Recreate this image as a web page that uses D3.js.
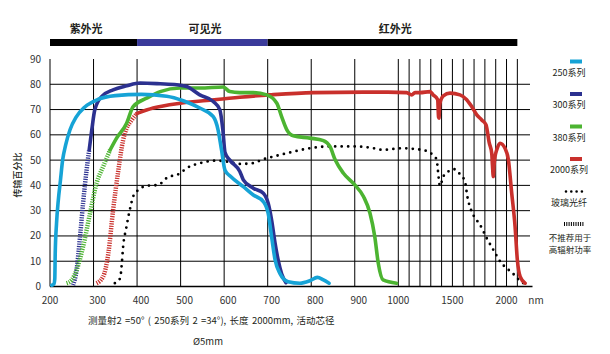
<!DOCTYPE html>
<html>
<head>
<meta charset="utf-8">
<script src="https://cdn.jsdelivr.net/npm/d3@7"></script>
<style>
  body { margin: 0; background: #fff; }
  svg text { font-family: "Noto Sans CJK SC", "Noto Sans", sans-serif; fill: #231f20; }
</style>
</head>
<body>
<div id="chart"></div>
<script>
// transmission curves, [wavelength nm, percent]
var s250 = [[204,0.5],[209,1],[211,3],[212,13],[215,25],[219,34],[224,42],[229,50],[236,56],[246,62],[260,67],[280,71],
    [310,74],[350,75.5],[410,76],[468,75.3],[506,73.5],[544,70.6],[575,67.2],[586,62],[594,54],[602,46],[615,43.5],
    [644,39.5],[667,36.2],[690,33.6],[701,29],[709,19.7],[717,10.5],[728,5.2],[747,1.9],[774,1.3],[797,2.3],[814,3.6],
    [828,2.6],[841,1.3]];

var hatch300 = [[253,0.6],[261,6.5],[269,19.7],[276,33],[284,46],[290,54]];
var s300 = [[290,54],[296,62],[303,70],[319,75.2],[345,77.8],[376,79.4],[407,80.5],[453,80.2],[491,79.8],[514,79.1],
    [544,75.8],[575,73.2],[590,70],[597,62],[602,53],[613,50],[636,45.5],[644,42.2],[667,38.9],[690,36.9],[701,33],
    [709,26.3],[717,17.1],[724,10.5],[732,5],[742,1.5]];

var hatch380 = [[238,1.3],[250,2.6],[261,6.5],[276,15.8],[292,29],[307,40.9],[322,47.4],[338,54]];
var s380 = [[338,54],[353,58.7],[376,64.6],[391,71.2],[422,74.5],[453,77.1],[499,78.5],[545,78.5],[598,78.9],
    [613,77.1],[636,76.7],[667,76.7],[698,75.8],[721,72.5],[732,67.2],[744,62],[759,59.6],[797,58.7],[828,57.7],
    [843,55.4],[855,50.1],[874,44.8],[900,40.2],[920,35.6],[935,29],[946,19.7],[954,9.2],[965,2.6],[996,1.3]];

var hatch2000 = [[307,1.3],[322,3.9],[334,13.1],[345,30.3],[357,46],[368,58],[376,62.6],[388,65.9],[400,68.5]];
var s2000 = [[400,68.5],[437,70.6],[499,72.5],[560,73.6],[636,74.9],[705,75.8],[805,76.7],[920,76.9],[976,76.9],
    [1077,76.7],[1124,75.8],[1154,76.7],[1200,76.7],[1293,77.1],[1323,75.8],[1364,73.9],[1372,67],[1376,66.6],
    [1380,70],[1385,72.5],[1416,75.4],[1478,76.5],[1570,75.8],[1632,73.9],[1678,71.2],[1725,67.9],[1771,65.9],
    [1810,64],[1841,56.7],[1863,52.8],[1870,48],[1878,43.5],[1885,48],[1894,51.4],[1909,54],[1940,56.7],[1986,54.7],
    [2017,50.1],[2048,36.9],[2079,23.7],[2100,10.5],[2126,3.9],[2172,1.3]];

var glass = [[349,1.3],[361,3.2],[365,9.2],[368,15.8],[375,23],[380,27.6],[385,31.6],[391,35.6],[403,38.2],[422,39.8],
    [449,40.2],[468,42.9],[499,44.8],[514,46.8],[545,48.8],[583,49.8],[606,49.4],[636,48.5],[667,48.8],[686,50.1],
    [713,51.4],[751,53],[797,54.7],[843,55.4],[904,55.4],[943,54.7],[966,54],[981,54.3],[1046,54.7],[1170,54.3],
    [1247,53.8],[1318,52.1],[1355,50.1],[1364,46.8],[1370,44.2],[1385,39.8],[1416,43.5],[1462,45.5],[1515,46.4],
    [1570,44.4],[1616,41.5],[1638,35.6],[1678,29.6],[1718,26.6],[1755,24.4],[1817,19.1],[1878,14.5],[1949,9.4],
    [2002,7.2],[2057,5.2],[2109,2.9],[2155,1.3]];

var gridNm = d3.range(200, 2101, 100);
var xLabels = [200, 300, 400, 500, 600, 700, 800, 900, 1000, 1500, 2000];
var yTicks = d3.range(0, 91, 10);

var bandNames = ['紫外光', '可见光', '红外光'];
var bandEdges = [200, 400, 700, 2100];
var bandLabelNm = [283, 556, 993];
var bandColors = ['#000', '#3a3a9a', '#000'];

var legendNames = ['250系列', '300系列', '380系列', '2000系列', '玻璃光纤'];
var seriesColors = ['#16a3d6', '#2c3190', '#4cb431', '#c9302c', '#000'];
var hatchNote = ['不推荐用于', '高辐射功率'];

var Chart = function() {
    this.createSpace();
    this.createScales();
    this.drawGrid();
    this.drawBands();
    this.drawCurves();
    this.drawLegend();
    this.drawNotes();
    return this;
};

Chart.prototype.createSpace = function() {
    this.width = 610;
    this.height = 354;
    this.svg = d3.select('#chart').append('svg')
        .attr('width', this.width)
        .attr('height', this.height);
};

Chart.prototype.createScales = function() {
    // linear to 1000 nm, compressed beyond
    this.x = d3.scaleLinear().domain([200, 1000, 2240]).range([50, 398.3, 532.5]);
    this.y = d3.scaleLinear().domain([0, 90]).range([286.5, 59]);
};

Chart.prototype.drawGrid = function() {
    var x = this.x, y = this.y, g = this.svg.append('g');

    g.selectAll('.h').data(yTicks.slice(1, 9)).enter().append('line')
        .attr('x1', x(200)).attr('x2', 530)
        .attr('y1', function(d) { return y(d); })
        .attr('y2', function(d) { return y(d); })
        .attr('stroke', '#000').attr('stroke-width', 1);

    g.selectAll('.v').data(gridNm).enter().append('line')
        .attr('x1', function(d) { return x(d); })
        .attr('x2', function(d) { return x(d); })
        .attr('y1', y(0)).attr('y2', y(90))
        .attr('stroke', '#000').attr('stroke-width', 1);

    g.append('line')
        .attr('x1', x(200)).attr('x2', x(2240))
        .attr('y1', y(0)).attr('y2', y(0))
        .attr('stroke', '#000').attr('stroke-width', 1.6);

    g.selectAll('.yl').data(yTicks).enter().append('text')
        .attr('x', 41).attr('y', function(d) { return y(d) + 3.5; })
        .attr('text-anchor', 'end').attr('font-size', 10)
        .style('fill', '#333')
        .text(function(d) { return d; });

    g.selectAll('.xl').data(xLabels).enter().append('text')
        .attr('x', function(d) { return x(d) + (d > 200 && d < 1000 ? 4 : 0); })
        .attr('y', 304)
        .attr('text-anchor', 'middle').attr('font-size', 10)
        .style('fill', '#333')
        .text(function(d) { return d; });

    g.append('text')
        .attr('x', 536).attr('y', 304)
        .attr('text-anchor', 'middle').attr('font-size', 10)
        .style('fill', '#333')
        .text('nm');

    g.append('text')
        .attr('transform', 'translate(21,175) rotate(-90)')
        .attr('text-anchor', 'middle').attr('font-size', 9).attr('font-weight', 500)
        .text('传输百分比');
};

Chart.prototype.drawBands = function() {
    var x = this.x, g = this.svg.append('g');

    g.selectAll('rect').data(bandNames).enter().append('rect')
        .attr('x', function(d, i) { return x(bandEdges[i]); })
        .attr('width', function(d, i) { return x(bandEdges[i + 1]) - x(bandEdges[i]); })
        .attr('y', 39).attr('height', 7)
        .attr('fill', function(d, i) { return bandColors[i]; });

    g.selectAll('text').data(bandNames).enter().append('text')
        .attr('x', function(d, i) { return x(bandLabelNm[i]); })
        .attr('y', 33)
        .attr('text-anchor', 'middle').attr('font-size', 11).attr('font-weight', 700)
        .text(function(d) { return d; });
};

Chart.prototype.drawCurves = function() {
    var x = this.x, y = this.y, g = this.svg.append('g');
    var line = d3.line()
        .x(function(d) { return x(d[0]); })
        .y(function(d) { return y(d[1]); })
        .curve(d3.curveMonotoneX);

    var hatched = [hatch300, hatch380, hatch2000];
    var hatchColors = [seriesColors[1], seriesColors[2], seriesColors[3]];
    hatched.forEach(function(h, i) {
        g.append('path').attr('d', line(h))
            .attr('fill', 'none').attr('stroke', hatchColors[i])
            .attr('stroke-width', 4.5).attr('stroke-dasharray', '1.2 1.2');
    });

    g.append('path').attr('d', line(glass))
        .attr('fill', 'none').attr('stroke', '#000')
        .attr('stroke-width', 2.8).attr('stroke-linecap', 'round')
        .attr('stroke-dasharray', '0 6.5');

    [s2000, s380, s300, s250].forEach(function(s, i) {
        g.append('path').attr('d', line(s))
            .attr('fill', 'none').attr('stroke', seriesColors[3 - i])
            .attr('stroke-width', 3.6).attr('stroke-linejoin', 'round').attr('stroke-linecap', 'round');
    });
};

Chart.prototype.drawLegend = function() {
    var g = this.svg.append('g');
    var ly = function(i) { return 61.5 + i * 32.5; };

    g.selectAll('rect').data(legendNames.slice(0, 4)).enter().append('rect')
        .attr('x', 570).attr('width', 12)
        .attr('y', function(d, i) { return ly(i) - 2; }).attr('height', 4)
        .attr('fill', function(d, i) { return seriesColors[i]; });

    g.append('line')
        .attr('x1', 566).attr('x2', 582).attr('y1', ly(4)).attr('y2', ly(4))
        .attr('stroke', '#000').attr('stroke-width', 2.6)
        .attr('stroke-linecap', 'round').attr('stroke-dasharray', '0 5.3');

    g.append('line')
        .attr('x1', 564).attr('x2', 584).attr('y1', ly(5)).attr('y2', ly(5))
        .attr('stroke', '#000').attr('stroke-width', 4)
        .attr('stroke-dasharray', '1 1.3');

    g.selectAll('text.name').data(legendNames).enter().append('text')
        .attr('x', 569).attr('y', function(d, i) { return ly(i) + 14; })
        .attr('text-anchor', 'middle').attr('font-size', 9)
        .text(function(d) { return d; });

    // two-line note under the hatch sample
    g.selectAll('text.note').data(hatchNote).enter().append('text')
        .attr('x', 570)
        .attr('y', function(d, i) { return ly(5) + 17 + i * 12; })
        .attr('text-anchor', 'middle').attr('font-size', 8.5)
        .text(function(d) { return d; });
};

Chart.prototype.drawNotes = function() {
    var g = this.svg.append('g');
    g.append('text')
        .attr('x', 88).attr('y', 324).attr('font-size', 9.5)
        .attr('word-spacing', 1.2)
        .text('测量射2  =50° (  250系列 2  =34°), 长度 2000mm, 活动芯径');
    g.append('text')
        .attr('x', 208).attr('y', 345).attr('text-anchor', 'middle').attr('font-size', 9.5)
        .text('Ø5mm');
};

var chart = new Chart();
</script>
</body>
</html>
